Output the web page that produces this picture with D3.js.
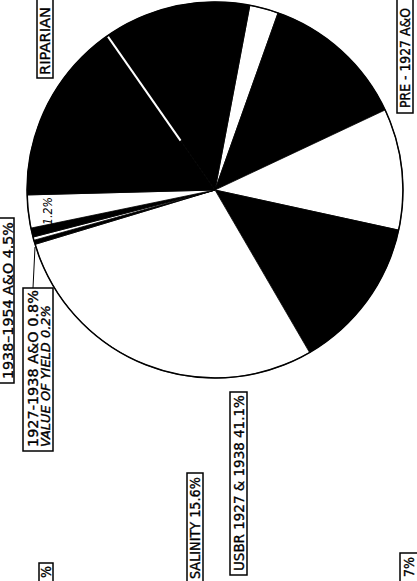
<!DOCTYPE html>
<html>
<head>
<meta charset="utf-8">
<script src="https://cdn.jsdelivr.net/npm/d3@7"></script>
<style>
  html, body { margin: 0; padding: 0; background: #fff; }
  svg { display: block; }
</style>
</head>
<body>
<svg id="chart" width="417" height="581"></svg>
<script>
// Slice shares (percent of the circle), clockwise from the small white wedge at the top
const sliceValues = [2.47, 12.56, 10.42, 13.19, 28.72, 0.36, 0.28, 0.78, 2.83, 15.72, 12.67];
const sliceShades = ["white", "black", "white", "black", "white", "black", "white", "black", "white", "black", "black"];

// Label texts (read bottom to top on the page)
const labelTexts = [
  ["RIPARIAN"],
  ["PRE - 1927 A&O"],
  ["1938\u20131954 A&O 4.5%"],
  ["1927-1938 A&O 0.8%", "VALUE OF YIELD 0.2%"],
  ["USBR 1927 & 1938 41.1%"],
  ["SALINITY 15.6%"],
  ["%"],
  ["7%"]
];
const innerLabel = "1.2%";

const svg = d3.select("#chart");
const cx = 215, cy = 190, radius = 188;

const pie = d3.pie()
  .sort(null)
  .value(d => d)
  .startAngle(10.7 * Math.PI / 180)
  .endAngle(10.7 * Math.PI / 180 + 2 * Math.PI);

const arcs = pie(sliceValues);
const arc = d3.arc().innerRadius(0).outerRadius(radius);

const g = svg.append("g").attr("transform", `translate(${cx},${cy})`);

g.selectAll(".slice")
  .data(arcs)
  .enter()
  .append("path")
  .attr("class", "slice")
  .attr("d", arc)
  .attr("fill", (d, i) => sliceShades[i])
  .attr("stroke", "#000")
  .attr("stroke-width", 0.8)
  .attr("stroke-linejoin", "round");

// thin white split between the two black slices on the upper left
const splitAngle = arcs[10].startAngle;
g.append("line")
  .attr("x1", Math.sin(splitAngle) * radius * 0.32)
  .attr("y1", -Math.cos(splitAngle) * radius * 0.32)
  .attr("x2", Math.sin(splitAngle) * (radius - 1))
  .attr("y2", -Math.cos(splitAngle) * (radius - 1))
  .attr("stroke", "#fff")
  .attr("stroke-width", 2);

// outline
g.append("circle")
  .attr("r", radius)
  .attr("fill", "none")
  .attr("stroke", "#000")
  .attr("stroke-width", 1.5);

// rotated text squeezed/stretched to a given length along the page
function upText(sel, x, y, len, size, italic, str) {
  const t = sel.append("text")
    .attr("font-family", "DejaVu Sans, sans-serif")
    .attr("font-size", size)
    .attr("font-style", italic ? "italic" : "normal")
    .text(str);
  const natural = t.node().getComputedTextLength() || len;
  t.attr("transform", `translate(${x},${y}) rotate(-90) scale(${len / natural},1)`);
  return t;
}

// "1.2%" inside the small white slice
upText(svg, 52, 225, 28, 12, true, innerLabel);

// Box layout for each label: box x0,x1,y0,y1, baseline x per line, start y, text length per line
const labelBoxes = [
  { x0: 37, x1: 53, y0: -5, y1: 78, bx: [50], sy: 75, len: [68], italic: [false] },
  { x0: 397, x1: 413, y0: -5, y1: 113, bx: [410], sy: 108, len: [100], italic: [false] },
  { x0: -1, x1: 14, y0: 218, y1: 383, bx: [12.5], sy: 379, len: [157], italic: [false] },
  { x0: 23, x1: 53, y0: 288, y1: 451, bx: [38, 50], sy: 447, len: [157, 142], italic: [false, true] },
  { x0: 230, x1: 247, y0: 392, y1: 575, bx: [244], sy: 571, len: [176], italic: [false] },
  { x0: 187, x1: 203, y0: 473, y1: 600, bx: [200], sy: 579, len: [102], italic: [false] },
  { x0: 39, x1: 53, y0: 563, y1: 600, bx: [51], sy: 578, len: [12], italic: [false] },
  { x0: 400, x1: 418, y0: 553, y1: 600, bx: [414], sy: 577, len: [20], italic: [false] }
];

const labels = svg.selectAll(".label")
  .data(labelTexts)
  .enter()
  .append("g")
  .attr("class", "label");

labels.append("rect")
  .attr("x", (d, i) => labelBoxes[i].x0)
  .attr("y", (d, i) => labelBoxes[i].y0)
  .attr("width", (d, i) => labelBoxes[i].x1 - labelBoxes[i].x0)
  .attr("height", (d, i) => labelBoxes[i].y1 - labelBoxes[i].y0)
  .attr("fill", "#fff")
  .attr("stroke", "#000")
  .attr("stroke-width", 1.5);

labels.each(function(lines, i) {
  const box = labelBoxes[i];
  lines.forEach((line, j) => {
    upText(d3.select(this), box.bx[j], box.sy, box.len[j],
      box.italic[j] ? 12 : 14, box.italic[j], line)
      .attr("stroke", "#000")
      .attr("stroke-width", 0.35);
  });
});

// leader from the 0.8% box to the thin black slice
svg.append("line")
  .attr("x1", 33).attr("y1", 288)
  .attr("x2", 35).attr("y2", 247)
  .attr("stroke", "#000")
  .attr("stroke-width", 1);
</script>
</body>
</html>
